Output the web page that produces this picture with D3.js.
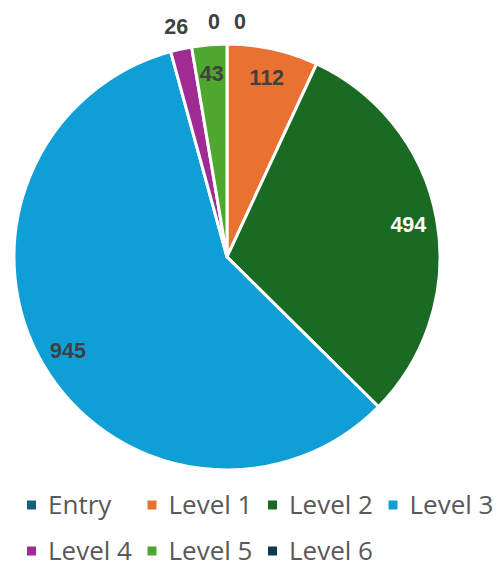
<!DOCTYPE html>
<html><head><meta charset="utf-8">
<script src="https://cdn.jsdelivr.net/npm/d3@7"></script>
<style>html,body{margin:0;padding:0;background:#fff;}svg{display:block;}</style>
</head><body>
<svg id="chart" width="500" height="567"></svg>
<script>
const categories = ["Entry","Level 1","Level 2","Level 3","Level 4","Level 5","Level 6"];
const values = [0,112,494,945,26,43,0];
const colors = ["#156082","#E97132","#196B24","#0F9ED5","#A02B93","#4EA72E","#0E3A50"];

const svg = d3.select("#chart");
const cx = 227, cy = 257, r = 213;
const g = svg.append("g").attr("transform", `translate(${cx},${cy})`);

const data = categories.map((c,i)=>({cat:c, value:values[i], color:colors[i], idx:i}));
const pie = d3.pie().value(d=>d.value).sort(null);
const arcs = pie(data);
const arc = d3.arc().innerRadius(0).outerRadius(r);
const inLabel = d3.arc().innerRadius(r*0.865).outerRadius(r*0.865);
const outLabel = d3.arc().innerRadius(236).outerRadius(236);

g.selectAll("path.slice").data(arcs.filter(a=>a.data.value>0)).join("path")
  .attr("class","slice").attr("d",arc).attr("fill",d=>d.data.color)
  .attr("stroke","#fff").attr("stroke-width",3).attr("stroke-linejoin","round");

const small = a => (a.endAngle - a.startAngle) < 7*Math.PI/180;
g.selectAll("text.lbl").data(arcs).join("text")
  .attr("class","lbl")
  .attr("transform", a=>{
    let p = small(a) ? outLabel.centroid(a) : inLabel.centroid(a);
    if (a.data.value === 0) p = [p[0] + (a.data.idx===0 ? 13 : -13), p[1]];
    return `translate(${p[0]},${p[1]})`;
  })
  .attr("text-anchor","middle").attr("dy","0.36em")
  .attr("font-family","'Liberation Sans', Arial, sans-serif")
  .attr("font-weight","bold").attr("font-size",21.5)
  .attr("fill", a=> (!small(a) && d3.hsl(a.data.color).l < 0.3) ? "#fff" : "#404040")
  .text(a=>a.data.value);

// legend
const perRow = 4, colW = 120.5, x0 = 27, y0 = 505, rowH = 46;
const leg = svg.append("g").selectAll("g").data(data).join("g")
  .attr("transform",(d,i)=>`translate(${x0 + (i%perRow)*colW},${y0 + Math.floor(i/perRow)*rowH})`);
leg.append("rect").attr("x",0).attr("y",-4.5).attr("width",9).attr("height",9).attr("fill",d=>d.color);
leg.append("text").attr("x",21).attr("dy","0.36em")
  .attr("font-family","'Open Sans', sans-serif").attr("font-size",26)
  .attr("fill","#595959").text(d=>d.cat);
</script>
</body></html>
